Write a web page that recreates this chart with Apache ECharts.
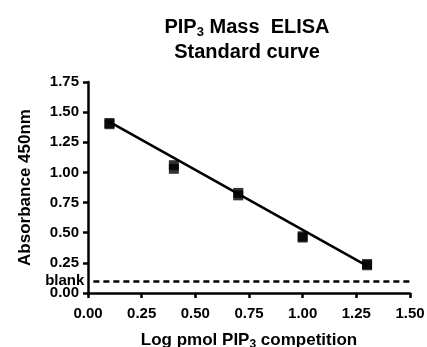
<!DOCTYPE html>
<html>
<head>
<meta charset="utf-8">
<script src="https://cdn.jsdelivr.net/npm/echarts@6/dist/echarts.min.js"></script>
<style>
  html, body { margin: 0; padding: 0; background: #fff; }
  #chart { width: 427px; height: 347px; }
</style>
</head>
<body>
<div id="chart"></div>
<script>
// log pmol PIP3 competitor, two replicate readings each
const logPmol = [0.1, 0.4, 0.7, 1.0, 1.3];
const rep1 = [1.41, 1.06, 0.83, 0.47, 0.24];
const rep2 = [1.40, 1.03, 0.81, 0.46, 0.23];
// linear fit drawn across the standards
const fitX = [0.1, 1.3];
const fitY = [1.42, 0.225];
const blank = 0.1;

const FONT = 'Liberation Sans, Arial, sans-serif';
const pairs = (xs, ys) => xs.map((x, i) => [x, ys[i]]);

const axisCommon = {
  axisLine: { show: true, lineStyle: { color: '#000', width: 2.5 } },
  axisTick: { show: true, inside: false, length: 5, lineStyle: { color: '#000', width: 2.5 } },
  splitLine: { show: false },
  axisLabel: {
    color: '#000', fontFamily: FONT, fontWeight: 'bold', fontSize: 15,
    formatter: v => v.toFixed(2)
  }
};

const option = {
  animation: false,
  backgroundColor: '#fff',
  title: {
    text: '{t|PIP}{s|3}{t| Mass  ELISA}\n{t|Standard curve}',
    left: 242, top: 10, textAlign: 'center',
    textStyle: {
      rich: {
        t: { fontFamily: FONT, fontWeight: 'bold', fontSize: 20, color: '#000', lineHeight: 25 },
        s: { fontFamily: FONT, fontWeight: 'bold', fontSize: 13, color: '#000', lineHeight: 25, padding: [10, 0, 0, 0] }
      }
    }
  },
  grid: { left: 88, right: 17, top: 82, bottom: 54, containLabel: false, outerBoundsMode: 'none' },
  xAxis: Object.assign({}, axisCommon, {
    type: 'value', min: 0, max: 1.5, interval: 0.25,
    axisLabel: Object.assign({}, axisCommon.axisLabel, { margin: 13 }),
    name: '{t|Log pmol PIP}{s|3}{t| competition}',
    nameLocation: 'middle', nameGap: 37,
    nameTextStyle: {
      rich: {
        t: { fontFamily: FONT, fontWeight: 'bold', fontSize: 17, color: '#000', lineHeight: 20 },
        s: { fontFamily: FONT, fontWeight: 'bold', fontSize: 12, color: '#000', lineHeight: 20, padding: [9, 0, 0, 0] }
      }
    }
  }),
  yAxis: Object.assign({}, axisCommon, {
    type: 'value', min: 0, max: 1.75, interval: 0.25,
    axisLabel: Object.assign({}, axisCommon.axisLabel, { margin: 9 }),
    name: 'Absorbance 450nm',
    nameLocation: 'middle', nameGap: 54, nameRotate: 90,
    nameTextStyle: { fontFamily: FONT, fontWeight: 'bold', fontSize: 17, color: '#000' }
  }),
  series: [
    {
      type: 'line', data: pairs(fitX, fitY), showSymbol: false, z: 2,
      lineStyle: { color: '#000', width: 2.5 },
      markLine: {
        silent: true, symbol: 'none',
        lineStyle: { color: '#000', width: 2.5, type: [6, 4] },
        label: {
          show: true, position: 'start', formatter: 'blank', distance: 9,
          color: '#000', fontFamily: FONT, fontWeight: 'bold', fontSize: 15
        },
        data: [[{ coord: [0.025, blank] }, { coord: [1.5, blank] }]]
      }
    },
    {
      type: 'scatter', data: pairs(logPmol, rep1), symbol: 'rect', symbolSize: 10, z: 3,
      itemStyle: { color: '#000' }
    },
    {
      type: 'scatter', data: pairs(logPmol, rep2), symbol: 'rect', symbolSize: 10, z: 3,
      itemStyle: { color: '#000' }
    }
  ]
};

echarts.init(document.getElementById('chart')).setOption(option);
</script>
</body>
</html>
